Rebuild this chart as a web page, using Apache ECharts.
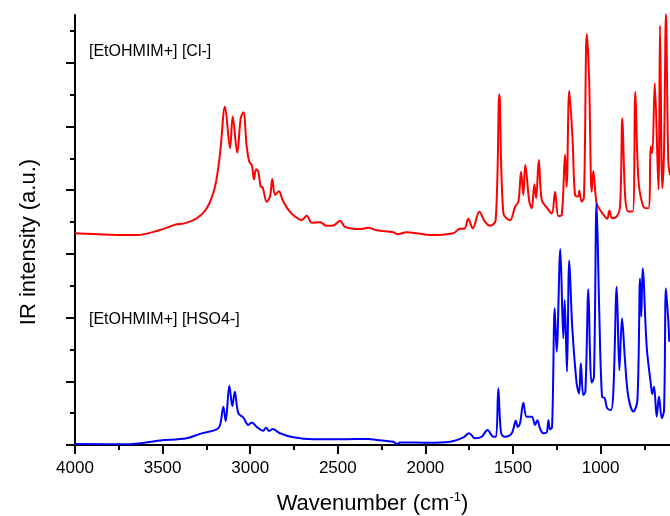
<!DOCTYPE html>
<html>
<head>
<meta charset="utf-8">
<script src="https://cdn.jsdelivr.net/npm/echarts@6/dist/echarts.min.js"></script>
<style>
  html, body { margin: 0; padding: 0; background: #ffffff; }
  #chart { width: 670px; height: 516px; }
</style>
</head>
<body>
<div id="chart"></div>
<script>
// IR spectra of two ionic liquids (offset for clarity)
const clName = '[EtOHMIM+] [Cl-]';
const hso4Name = '[EtOHMIM+] [HSO4-]';

// [EtOHMIM+][Cl-] : wavenumber (cm-1) and intensity (a.u., offset)
const clWavenumber = [4000, 3648, 3515, 3420, 3382, 3305, 3248, 3201, 3172, 3144, 3115, 3100, 3074, 3054, 3039, 3020, 3005, 2991, 2978, 2967, 2954, 2940, 2929, 2906, 2887, 2874, 2858, 2836, 2815, 2782, 2744, 2706, 2677, 2649, 2601, 2563, 2526, 2487, 2459, 2373, 2326, 2278, 2183, 2160, 2107, 2050, 1974, 1841, 1802, 1778, 1755, 1730, 1692, 1660, 1631, 1599, 1578, 1555, 1517, 1488, 1469, 1454, 1441, 1430, 1407, 1393, 1378, 1368, 1353, 1336, 1308, 1279, 1260, 1241, 1222, 1203, 1194, 1179, 1160, 1146, 1127, 1122, 1108, 1095, 1079, 1066, 1051, 1042, 1023, 1003, 975, 962, 950, 935, 908, 889, 876, 860, 842, 817, 802, 784, 756, 727, 714, 705, 691, 670, 661, 648, 638, 627, 614, 604];
const clIntensity = [6.65, 6.59, 6.75, 6.93, 6.95, 7.12, 7.43, 8.11, 9.16, 10.62, 9.32, 10.31, 9.18, 10.26, 10.45, 9.37, 8.89, 8.79, 8.34, 8.66, 8.58, 8.11, 8.09, 7.64, 7.80, 8.35, 7.85, 7.97, 7.69, 7.38, 7.17, 7.06, 7.20, 6.98, 6.99, 6.88, 6.89, 7.04, 6.85, 6.78, 6.82, 6.74, 6.68, 6.62, 6.68, 6.65, 6.59, 6.65, 6.79, 6.79, 7.10, 6.80, 7.32, 7.01, 6.88, 7.06, 11.01, 7.27, 7.06, 7.48, 7.64, 8.58, 7.85, 8.79, 7.64, 7.43, 8.19, 7.75, 8.95, 7.69, 7.46, 7.27, 7.95, 7.19, 7.22, 9.11, 8.11, 11.12, 9.58, 7.85, 7.80, 7.98, 7.64, 7.78, 12.90, 11.56, 7.95, 8.60, 7.59, 7.38, 7.17, 7.10, 7.36, 7.12, 7.17, 7.48, 10.26, 7.80, 7.33, 7.33, 11.09, 8.32, 7.48, 7.43, 9.37, 9.16, 11.36, 8.01, 13.16, 8.06, 9.26, 13.52, 8.95, 8.48];

// [EtOHMIM+][HSO4-] : wavenumber (cm-1) and intensity (a.u.)
const hso4Wavenumber = [4000, 3705, 3515, 3362, 3287, 3191, 3172, 3153, 3140, 3119, 3102, 3088, 3068, 3039, 3011, 2991, 2963, 2925, 2910, 2891, 2872, 2830, 2754, 2640, 2468, 2326, 2278, 2183, 2160, 2145, 1983, 1860, 1783, 1751, 1717, 1679, 1646, 1612, 1597, 1584, 1568, 1546, 1507, 1484, 1473, 1460, 1441, 1422, 1393, 1374, 1361, 1346, 1327, 1308, 1298, 1289, 1277, 1262, 1251, 1230, 1213, 1205, 1192, 1179, 1162, 1137, 1123, 1113, 1099, 1087, 1070, 1060, 1051, 1038, 1023, 1008, 992, 977, 962, 941, 927, 908, 893, 878, 861, 842, 813, 790, 775, 768, 760, 737, 714, 705, 695, 680, 667, 651, 638, 627, 614, 608];
const hso4Intensity = [0.03, 0.02, 0.14, 0.21, 0.35, 0.49, 0.63, 1.20, 0.75, 1.86, 1.22, 1.67, 1.00, 0.86, 0.63, 0.71, 0.57, 0.45, 0.54, 0.44, 0.50, 0.37, 0.24, 0.18, 0.18, 0.19, 0.16, 0.10, 0.03, 0.08, 0.07, 0.10, 0.24, 0.37, 0.21, 0.26, 0.47, 0.26, 0.26, 1.78, 0.37, 0.26, 0.37, 0.76, 0.57, 0.68, 1.33, 0.89, 0.89, 0.63, 0.78, 0.52, 0.37, 0.39, 0.78, 0.49, 0.57, 4.29, 2.93, 6.15, 3.35, 4.55, 2.30, 5.79, 3.71, 1.94, 1.62, 2.57, 1.57, 1.67, 4.89, 2.77, 1.96, 2.14, 7.59, 4.24, 1.52, 1.47, 1.15, 1.10, 1.73, 4.97, 2.35, 3.98, 2.67, 1.52, 1.05, 1.41, 5.23, 4.03, 5.55, 3.09, 1.94, 1.60, 1.83, 0.89, 1.52, 0.84, 1.10, 4.92, 3.92, 3.24];

// Axis ranges and tick positions
const xMin = 604, xMax = 4000;
const xMajorTicks = [1000, 1500, 2000, 2500, 3000, 3500, 4000];
const xMinorTicks = [750, 1250, 1750, 2250, 2750, 3250, 3750];
const yMin = 0, yMax = 13.5;
const yMajorTicks = [0, 2, 4, 6, 8, 10, 12];
const yMinorTicks = [1, 3, 5, 7, 9, 11, 13];

const zip = (xs, ys) => xs.map((x, i) => [x, ys[i]]);

const FONT = '"Liberation Sans", Arial, sans-serif';
const chart = echarts.init(document.getElementById('chart'), null, { renderer: 'canvas' });

const hiddenAxisParts = {
  axisLine: { show: false },
  axisLabel: { show: false },
  splitLine: { show: false }
};

chart.setOption({
  animation: false,
  backgroundColor: '#ffffff',
  grid: { left: 75, right: 0, top: 15, bottom: 71, containLabel: false, outerBoundsMode: 'none' },
  xAxis: [
    {
      type: 'value', min: xMin, max: xMax, inverse: true, position: 'bottom',
      axisLine: { show: true, onZero: false, lineStyle: { color: '#000', width: 2 } },
      axisTick: { show: true, inside: false, length: 9, customValues: xMajorTicks, lineStyle: { color: '#000', width: 2 } },
      axisLabel: {
        show: true, customValues: xMajorTicks, margin: 15, color: '#000', fontSize: 17, fontFamily: FONT,
        formatter: v => String(v)
      },
      splitLine: { show: false },
      name: '{a|Wavenumber (cm}{s|-1}{a|)}',
      nameLocation: 'middle', nameGap: 46,
      nameTextStyle: {
        rich: {
          a: { fontSize: 22, fontFamily: FONT, color: '#000', lineHeight: 26 },
          s: { fontSize: 13, fontFamily: FONT, color: '#000', verticalAlign: 'top', lineHeight: 26, padding: [0, 0, 12, 0] }
        }
      }
    },
    Object.assign({
      type: 'value', min: xMin, max: xMax, inverse: true, position: 'bottom',
      axisTick: { show: true, inside: false, length: 5, customValues: xMinorTicks, lineStyle: { color: '#000', width: 2 } }
    }, hiddenAxisParts)
  ],
  yAxis: [
    {
      type: 'value', min: yMin, max: yMax, position: 'left',
      axisLine: { show: true, onZero: false, lineStyle: { color: '#000', width: 2 } },
      axisTick: { show: true, inside: false, length: 9, customValues: yMajorTicks, lineStyle: { color: '#000', width: 2 } },
      axisLabel: { show: false },
      splitLine: { show: false }
    },
    Object.assign({
      type: 'value', min: yMin, max: yMax, position: 'left',
      axisTick: { show: true, inside: false, length: 5, customValues: yMinorTicks, lineStyle: { color: '#000', width: 2 } }
    }, hiddenAxisParts)
  ],
  graphic: [
    {
      type: 'text', x: 29, y: 242, rotation: Math.PI / 2,
      style: { text: 'IR intensity (a.u.)', fill: '#000', font: '22px ' + FONT, textAlign: 'center', textVerticalAlign: 'middle' }
    },
    {
      type: 'text', x: 89, y: 52,
      style: { text: clName, fill: '#000', font: '16px ' + FONT, textAlign: 'left', textVerticalAlign: 'middle' }
    },
    {
      type: 'text', x: 89, y: 320,
      style: { text: hso4Name, fill: '#000', font: '16px ' + FONT, textAlign: 'left', textVerticalAlign: 'middle' }
    }
  ],
  series: [
    {
      name: clName, type: 'line', xAxisIndex: 0, yAxisIndex: 0,
      data: zip(clWavenumber, clIntensity),
      showSymbol: false, smooth: 0.35, clip: false,
      lineStyle: { color: '#ff0000', width: 2 }
    },
    {
      name: hso4Name, type: 'line', xAxisIndex: 0, yAxisIndex: 0,
      data: zip(hso4Wavenumber, hso4Intensity),
      showSymbol: false, smooth: 0.35, clip: false,
      lineStyle: { color: '#0000ff', width: 2 }
    }
  ]
});
</script>
</body>
</html>
